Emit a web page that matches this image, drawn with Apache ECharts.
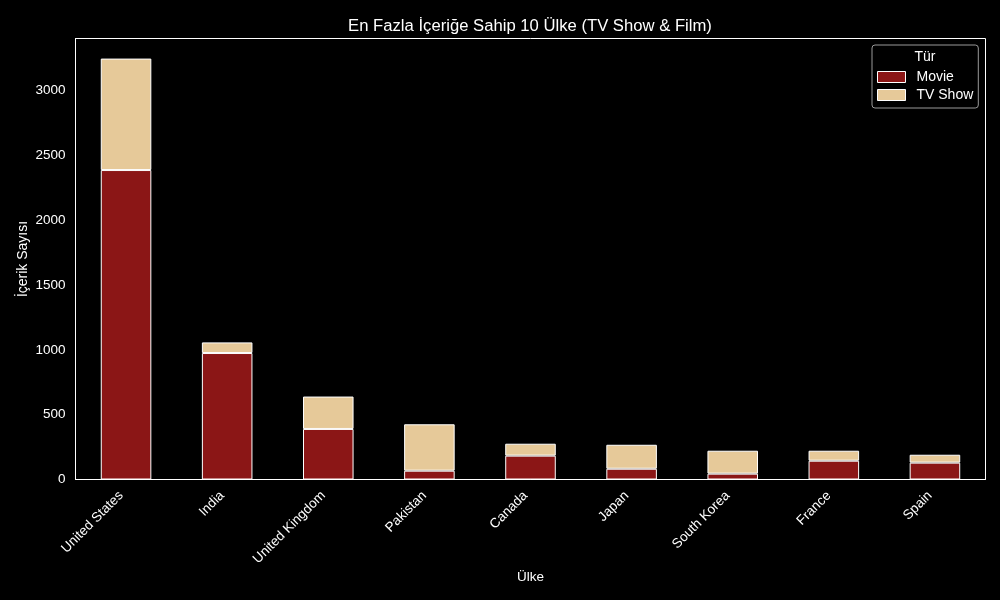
<!DOCTYPE html>
<html><head><meta charset="utf-8">
<style>html,body{margin:0;padding:0;background:#000}#c{width:1000px;height:600px}</style>
<script src="https://cdn.jsdelivr.net/npm/echarts@6/dist/echarts.min.js"></script>
</head><body><div id="c"></div>
<script>
const categories = ["United States","India","United Kingdom","Pakistan","Canada","Japan","South Korea","France","Spain"];
const movieValues = [2388,976,390,68,184,83,45,145,130];
const tvShowValues = [860,82,250,358,92,185,177,77,61];
const yTicks = [0,500,1000,1500,2000,2500,3000];
const F = '"Liberation Sans", Arial, sans-serif';
const chart = echarts.init(document.getElementById('c'), null, {renderer:'canvas'});
const bar = (name, data, color) => ({
  name, type:'bar', stack:'total', data, barWidth:'50%',
  itemStyle:{color, borderColor:'#fff', borderWidth:1},
  emphasis:{disabled:true}, animation:false
});
chart.setOption({
  backgroundColor:'#000',
  animation:false,
  textStyle:{fontFamily:F},
  title:[
    {text:'En Fazla İçeriğe Sahip 10 Ülke (TV Show & Film)', left:525, top:13, textAlign:'center',
     textStyle:{color:'#fff', fontSize:16.67, fontWeight:'normal', fontFamily:F}},
    {text:'Tür', left:920, top:45, textAlign:'center',
     textStyle:{color:'#fff', fontSize:14, fontWeight:'normal', fontFamily:F}}
  ],
  grid:{left:75.5, right:14.5, top:38.5, bottom:120.5, show:true, borderColor:'#fff', borderWidth:1, backgroundColor:'#000', outerBoundsMode:'none'},
  legend:{
    orient:'vertical', left:872, top:45,
    padding:[25,5,6,5], itemGap:4, itemWidth:28, itemHeight:11, icon:'rect',
    borderColor:'#999', borderWidth:1, borderRadius:3,
    textStyle:{color:'#fff', fontSize:14, fontFamily:F, padding:[0,0,0,6]},
    data:['Movie','TV Show'], selectedMode:false,
    itemStyle:{borderColor:'#fff', borderWidth:1}
  },
  xAxis:{
    type:'category', data:categories,
    name:'Ülke', nameLocation:'middle', nameGap:91, nameMoveOverlap:false,
    nameTextStyle:{color:'#fff', fontSize:13.5, fontFamily:F},
    axisLine:{show:true, lineStyle:{color:'#fff', width:1}},
    axisTick:{show:false},
    axisLabel:{color:'#fff', fontSize:13.5, rotate:45, interval:0, margin:9, fontFamily:F,
      align:'right', verticalAlign:'middle', padding:[0,7,0,0]}
  },
  yAxis:{
    type:'value', min:0, max:3403, interval:500,
    name:'İçerik Sayısı', nameLocation:'middle', nameGap:45, nameMoveOverlap:false,
    nameTextStyle:{color:'#fff', fontSize:14, fontFamily:F},
    axisLine:{show:true, lineStyle:{color:'#fff', width:1}},
    axisTick:{show:false}, splitLine:{show:false},
    axisLabel:{color:'#fff', fontSize:13.5, margin:10, fontFamily:F, padding:[3,0,0,0],
      showMaxLabel:false,
      formatter:v => yTicks.includes(v) ? String(v) : ''}
  },
  series:[bar('Movie', movieValues, '#8b1616'), bar('TV Show', tvShowValues, '#e6c999')]
});
</script></body></html>
